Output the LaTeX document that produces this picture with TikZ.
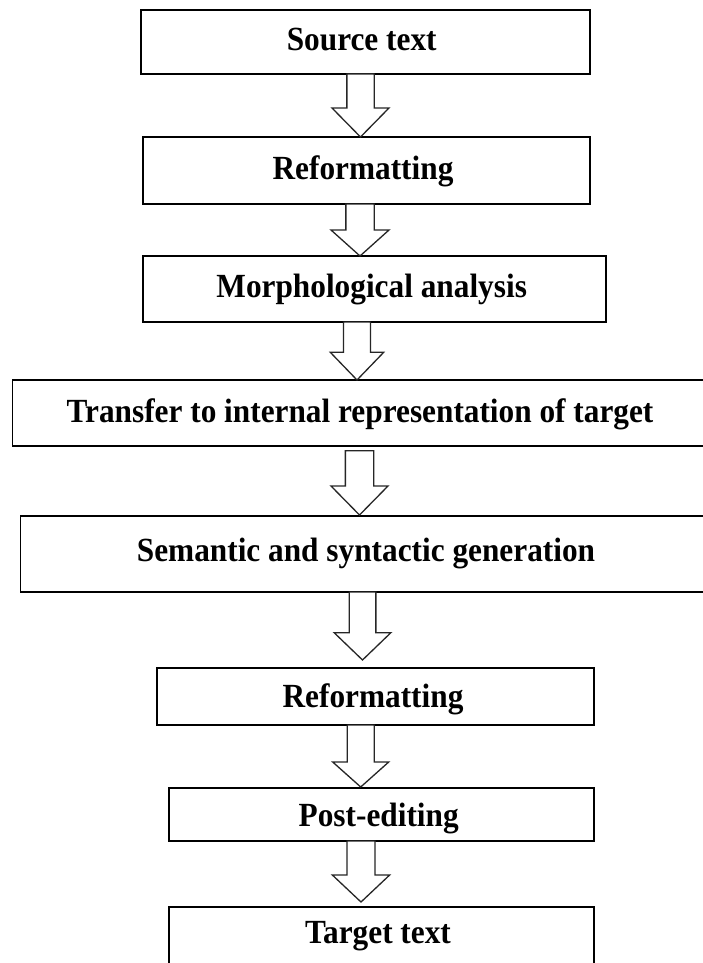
\documentclass[tikz,border=0pt]{standalone}
\usepackage{graphicx}
\usepackage{fontspec}
\setmainfont{Liberation Serif}
\usetikzlibrary{calc}
\tikzset{
  stagebox/.style={draw=black, line width=1.5pt, fill=white, inner sep=0pt, outer sep=0pt},
  stagetext/.style={anchor=base, inner sep=0pt, font=\fontsize{31.3}{36}\selectfont\bfseries},
  blockarrow/.style={draw=black!85, line width=1.3pt, fill=white, line join=miter}
}
\newcommand\stg[1]{\scalebox{1}[1.08]{#1}}
% from, to, centre x, top gap, bottom gap, shaft half width, head half width, head length
\newcommand\blockarr[8]{%
  \draw[blockarrow] let \p1=(#1.south), \p2=(#2.north) in
    (#3pt-#6pt,\y1-#4pt) -- (#3pt-#6pt,\y2+#5pt+#8pt) -- (#3pt-#7pt,\y2+#5pt+#8pt)
    -- (#3pt,\y2+#5pt) -- (#3pt+#7pt,\y2+#5pt+#8pt) -- (#3pt+#6pt,\y2+#5pt+#8pt)
    -- (#3pt+#6pt,\y1-#4pt) -- cycle;}
\begin{document}
\begin{tikzpicture}[x=1pt,y=-1pt]
\useasboundingbox (0,0) rectangle (703,963);
\clip (0,0) rectangle (703,963);
\fill[white] (0,0) rectangle (703,963);

\node[stagebox, minimum width=449pt, minimum height=64pt] (b1) at (365.5,42) {};
\node[stagebox, minimum width=447pt, minimum height=67pt] (b2) at (366.5,170.5) {};
\node[stagebox, minimum width=463pt, minimum height=66pt] (b3) at (374.5,289) {};
\node[stagebox, minimum width=699.4pt, minimum height=66pt] (b4) at (362.3,413) {};
\node[stagebox, minimum width=691.3pt, minimum height=76pt] (b5) at (366.35,554) {};
\node[stagebox, minimum width=437pt, minimum height=57pt] (b6) at (375.5,696.5) {};
\node[stagebox, minimum width=425pt, minimum height=53pt] (b7) at (381.5,814.5) {};
\node[stagebox, minimum width=425pt, minimum height=68pt] (b8) at (381.5,941) {};

\node[stagetext] (t1) at (361.7,51) {\stg{Source text}};
\node[stagetext] (t2) at (363,179) {\stg{Reformatting}};
\node[stagetext] (t3) at (371.7,297) {\stg{Morphological analysis}};
\node[stagetext] (t4) at (360,422) {\stg{Transfer to internal representation of target}};
\node[stagetext] (t5) at (366,561) {\stg{Semantic and syntactic generation}};
\node[stagetext] (t6) at (373,707) {\stg{Reformatting}};
\node[stagetext] (t7) at (378.7,826) {\stg{Post-editing}};
\node[stagetext] (t8) at (378,943) {\stg{Target text}};

\blockarr{b1}{b2}{360.5}{0}{0}{13.65}{28.5}{29}
\blockarr{b2}{b3}{360}{0}{0}{14.15}{29}{26}
\blockarr{b3}{b4}{357}{0}{0}{13.5}{26.7}{27.7}
\blockarr{b4}{b5}{359.5}{4.7}{1}{14.15}{28.5}{29}
\blockarr{b5}{b6}{362.5}{0}{8}{13.35}{28.35}{27.3}
\blockarr{b6}{b7}{360.7}{0}{1}{13.5}{28}{25}
\blockarr{b7}{b8}{361}{0}{5}{14}{28.65}{27}
\end{tikzpicture}
\end{document}
